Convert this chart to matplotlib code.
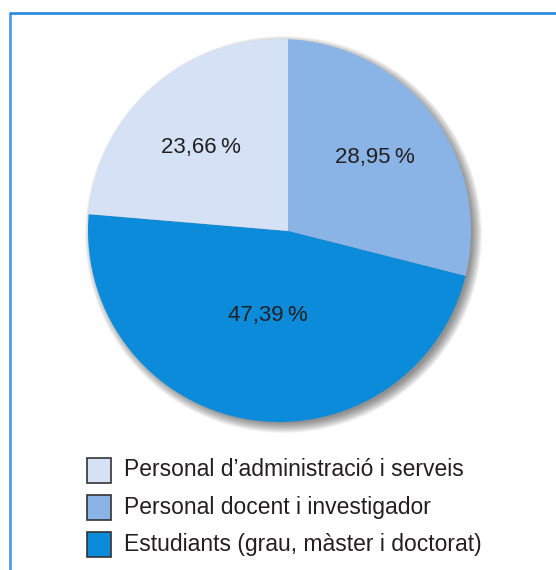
import matplotlib.pyplot as plt
from matplotlib.patches import Circle, Rectangle

# data
labels = ["Personal d\u2019administració i serveis",
          "Personal docent i investigador",
          "Estudiants (grau, màster i doctorat)"]
values = [23.66, 28.95, 47.39]
colors = ["#D5E1F5", "#8BB4E6", "#0B8BD9"]

W, H = 556, 570
fig = plt.figure(figsize=(W / 100, H / 100), dpi=100)
ax = fig.add_axes([0, 0, 1, 1])
plt.rcParams['font.family'] = ['Liberation Sans', 'DejaVu Sans']

# wedge apex and outline circle are not quite the same point in the original
ax_x, ax_y = 288, H - 231
cx, cy, r = 279.5, H - 230.5, 191.5

# soft drop shadow
for i in range(12):
    ax.add_patch(Circle((cx + 4, cy - 4), r + 7 - i * 0.9, color="#000000",
                        alpha=0.045, lw=0, zorder=1))

# pie clockwise from top: docent, estudiants, administració
order = [1, 2, 0]
wedges, _ = ax.pie([values[i] for i in order], colors=[colors[i] for i in order],
                   startangle=90, counterclock=False, center=(ax_x, ax_y),
                   radius=r + 20, frame=True, wedgeprops=dict(lw=0, zorder=2))
outline = Circle((cx, cy), r, transform=ax.transData)
for w in wedges:
    w.set_clip_on(True)
    w.set_clip_path(outline)

# percentage labels
pct_pos = {0: (201, 147), 1: (375, 158), 2: (268, 315)}
for i, (px, py) in pct_pos.items():
    txt = f"{values[i]:.2f}".replace(".", ",") + "\u2009%"
    ax.text(px, H - py, txt, ha="center", va="center", fontsize=16,
            color="#231F20", zorder=3)

# legend
for k, (lab, col) in enumerate(zip(labels, colors)):
    y = H - (470 + k * 37.3)
    ax.add_patch(Rectangle((87, y - 12.5), 24, 25, facecolor=col,
                           edgecolor="#333333", lw=1.2, zorder=3))
    ax.text(124, y, lab, ha="left", va="center", fontsize=16.5,
            color="#231F20", zorder=3)

# frame lines
ax.plot([10, 10], [0, H - 13], color="#4A9FE6", lw=2, solid_capstyle="butt")
ax.plot([9, W], [H - 13, H - 13], color="#2F8DDF", lw=2, solid_capstyle="butt")

ax.set_xlim(0, W)
ax.set_ylim(0, H)
ax.set_aspect("equal")
ax.axis("off")
fig.savefig("out.png", dpi=100)
